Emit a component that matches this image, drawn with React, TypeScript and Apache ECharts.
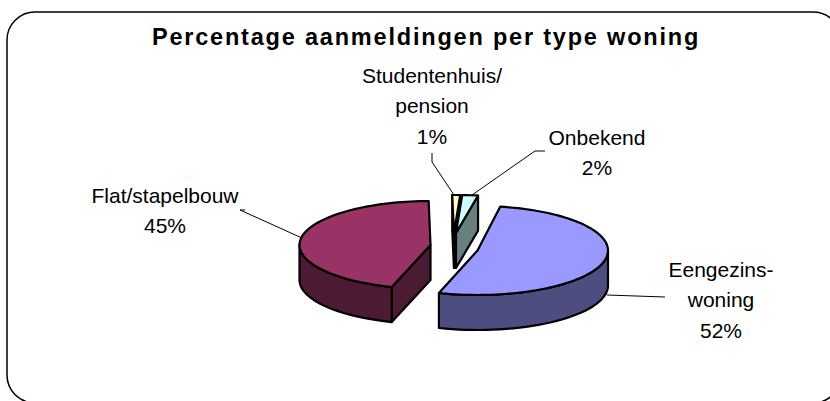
import React, { useEffect, useRef } from "react";
import * as echarts from "echarts";

const titleText = "Percentage aanmeldingen per type woning";
const categories = ["Eengezins-woning", "Flat/stapelbouw", "Studentenhuis/pension", "Onbekend"];
const labelLines = ["Eengezins-\nwoning", "Flat/stapelbouw", "Studentenhuis/\npension", "Onbekend"];
const percentages = [52, 45, 1, 2];
const drawOrder = [1, 2, 3, 0];

const START_DEG = 10;
const DEPTH = 35;
const topColors = ["#9999FF", "#993366", "#FFFFCC", "#CCFFFF"];
const sideColors = ["#4D4D80", "#4D1A33", "#808066", "#668080"];
const geometry = [
  { cx: 477.5, cy: 250.5, rx: 130.5, ry: 44.5 },
  { cx: 430.5, cy: 245, rx: 131, ry: 44 },
  { cx: 454, cy: 233, rx: 127, ry: 38 },
  { cx: 456, cy: 233, rx: 127, ry: 38 },
];
const labelPos = [
  { x: 721, y: 254 },
  { x: 165, y: 180 },
  { x: 432, y: 60 },
  { x: 597, y: 122 },
];
const leaders = [
  [[607, 295], [665, 297]],
  [[245, 210], [240, 210], [302, 238]],
  [[432, 153], [432, 162], [454, 195]],
  [[545, 151], [535, 151], [472, 195]],
];

const total = percentages.reduce((a, b) => a + b, 0);
const rad = (d: number) => (d * Math.PI) / 180;

function renderSlice(params: any, api: any) {
  const i = api.value(0) as number;
  const pct = api.value(1) as number;
  let before = 0;
  for (let k = 0; k < i; k++) before += percentages[k];
  const s = START_DEG + (before / total) * 360;
  const e = s + (pct / total) * 360;
  const g = geometry[i];
  const pt = (t: number, dy = 0) => [
    g.cx + g.rx * Math.sin(rad(t)),
    g.cy - g.ry * Math.cos(rad(t)) + dy,
  ];
  const stroke = { stroke: "#000", lineWidth: 2.2, lineJoin: "round" };
  const children: any[] = [];

  const sideStyle = { ...stroke, fill: sideColors[i] };
  const cutFace = (t: number) => ({
    type: "polygon",
    shape: { points: [[g.cx, g.cy], pt(t), pt(t, DEPTH), [g.cx, g.cy + DEPTH]] },
    style: sideStyle,
  });
  if (Math.sin(rad(s)) < 0) children.push(cutFace(s));
  if (Math.sin(rad(e)) > 0) children.push(cutFace(e));

  const wallFrom = Math.max(s, 90);
  const wallTo = Math.min(e, 270);
  if (wallTo > wallFrom) {
    const pts: number[][] = [];
    for (let t = wallFrom; t <= wallTo; t += 3) pts.push(pt(t));
    pts.push(pt(wallTo));
    for (let t = wallTo; t >= wallFrom; t -= 3) pts.push(pt(t, DEPTH));
    pts.push(pt(wallFrom, DEPTH));
    children.push({ type: "polygon", shape: { points: pts }, style: sideStyle });
  }

  const top: number[][] = [[g.cx, g.cy]];
  for (let t = s; t < e; t += 2) top.push(pt(t));
  top.push(pt(e));
  children.push({
    type: "polygon",
    shape: { points: top },
    style: { ...stroke, fill: topColors[i] },
  });
  return { type: "group", children };
}

function renderLabel(params: any, api: any) {
  const i = api.value(0) as number;
  const pct = api.value(1) as number;
  return {
    type: "group",
    children: [
      {
        type: "polyline",
        shape: { points: leaders[i] },
        style: { stroke: "#000", lineWidth: 1, fill: "none" },
      },
      {
        type: "text",
        style: {
          x: labelPos[i].x,
          y: labelPos[i].y,
          text: `${labelLines[i]}\n${pct}%`,
          textAlign: "center",
          textVerticalAlign: "top",
          font: "21px 'Liberation Sans', Arial, sans-serif",
          lineHeight: 30.5,
          fill: "#000",
        },
      },
    ],
  };
}

export default function App() {
  const ref = useRef<HTMLDivElement>(null);
  useEffect(() => {
    document.body.style.margin = "0";
    const chart = echarts.init(ref.current!, undefined, { renderer: "svg" });
    chart.setOption({
      animation: false,
      backgroundColor: "#fff",
      title: {
        text: titleText,
        left: 421,
        top: 20,
        textAlign: "center",
        textStyle: {
          fontFamily: "'Liberation Sans', Arial, sans-serif",
          fontSize: 23.5,
          fontWeight: "bold",
          color: "#000",
        },
      },
      graphic: [
        {
          type: "rect",
          shape: { x: 7, y: 12, width: 834, height: 391, r: 28 },
          style: { fill: "none", stroke: "#000", lineWidth: 1.5 },
          silent: true,
        },
      ],
      series: [
        {
          type: "custom",
          name: "slices",
          coordinateSystem: "none",
          renderItem: renderSlice,
          data: drawOrder.map((i) => [i, percentages[i], categories[i]]),
        },
        {
          type: "custom",
          name: "labels",
          coordinateSystem: "none",
          renderItem: renderLabel,
          data: drawOrder.map((i) => [i, percentages[i], categories[i]]),
        },
      ],
    });
    return () => chart.dispose();
  }, []);
  return (
    <>
      <style>{`.chart text[style*="bold"]{letter-spacing:1.8px}`}</style>
      <div ref={ref} className="chart" style={{ position: "fixed", left: 0, top: 0, width: 830, height: 401 }} />
    </>
  );
}
